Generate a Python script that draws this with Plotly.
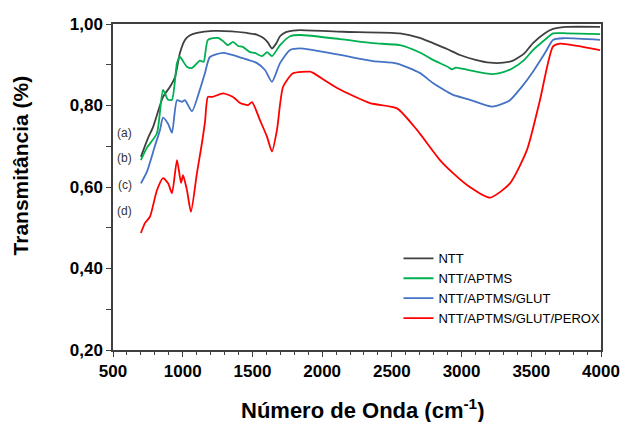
import plotly.graph_objects as go

# ---- data ----
ntt_x = [700, 751, 787, 859, 909, 945, 980, 1016, 1050, 1102, 1217, 1350, 1461, 1530, 1576, 1610, 1640, 1670, 1698, 1740, 1791,
         1841, 2150, 2558, 2700, 2795, 2900, 2989, 3100, 3204, 3300, 3369, 3450, 3512, 3600, 3656, 3700, 3756, 3993]
ntt_y = [0.674, 0.720, 0.747, 0.821, 0.846, 0.870, 0.929, 0.961, 0.972, 0.978, 0.983, 0.982, 0.978, 0.974, 0.966, 0.955, 0.940, 0.952, 0.970, 0.980, 0.984,
         0.985, 0.981, 0.977, 0.966, 0.953, 0.938, 0.924, 0.912, 0.905, 0.905, 0.910, 0.928, 0.953, 0.978, 0.988, 0.991, 0.993, 0.993]

aptms_x = [700, 743, 815, 859, 895, 923, 959, 980, 1030, 1066, 1124, 1150, 1181, 1253, 1290, 1325, 1361, 1397, 1430, 1483, 1518, 1569, 1605, 1640, 1698, 1770,
           1841, 2128, 2365, 2558, 2700, 2795, 2900, 2930, 2960, 3050, 3218, 3300, 3369, 3450, 3512, 3600, 3656, 3756, 3993]
aptms_y = [0.666, 0.696, 0.732, 0.838, 0.814, 0.814, 0.904, 0.919, 0.895, 0.892, 0.910, 0.907, 0.961, 0.966, 0.958, 0.948, 0.956, 0.946, 0.944, 0.931, 0.929, 0.921, 0.931, 0.921, 0.948, 0.970,
           0.973, 0.963, 0.953, 0.948, 0.930, 0.912, 0.895, 0.889, 0.893, 0.887, 0.877, 0.882, 0.892, 0.912, 0.936, 0.962, 0.977, 0.977, 0.975]

glut_x = [700, 743, 800, 837, 859, 895, 923, 959, 995, 1016, 1066, 1124, 1160, 1195, 1289, 1432, 1533, 1590, 1640, 1698, 1770,
          1841, 2128, 2365, 2537, 2700, 2795, 2900, 2939, 3050, 3218, 3300, 3347, 3430, 3512, 3600, 3656, 3728, 3993]
glut_y = [0.609, 0.637, 0.700, 0.740, 0.770, 0.755, 0.733, 0.813, 0.809, 0.813, 0.786, 0.840, 0.880, 0.919, 0.929, 0.916, 0.904, 0.887, 0.858, 0.904, 0.936,
          0.940, 0.924, 0.909, 0.903, 0.880, 0.855, 0.833, 0.826, 0.815, 0.797, 0.805, 0.813, 0.845, 0.883, 0.930, 0.961, 0.965, 0.961]

perox_x = [700, 730, 765, 815, 859, 895, 923, 959, 988, 1002, 1030, 1059, 1102, 1138, 1160, 1181, 1213, 1289, 1361, 1411, 1468, 1497, 1554, 1605, 1640, 1676, 1720, 1791, 1913,
           1935, 2107, 2344, 2537, 2680, 2845, 2939, 3039, 3204, 3347, 3469, 3562, 3656, 3706, 3993]
perox_y = [0.487, 0.512, 0.527, 0.592, 0.622, 0.609, 0.585, 0.666, 0.610, 0.629, 0.593, 0.539, 0.634, 0.708, 0.760, 0.821, 0.821, 0.830, 0.821, 0.806, 0.801, 0.808, 0.764, 0.723, 0.687, 0.740, 0.846, 0.879, 0.883,
           0.880, 0.843, 0.806, 0.793, 0.740, 0.666, 0.634, 0.605, 0.574, 0.609, 0.691, 0.813, 0.945, 0.952, 0.936]

series_names = ["NTT", "NTT/APTMS", "NTT/APTMS/GLUT", "NTT/APTMS/GLUT/PEROX"]
series_colors = ["#404040", "#00b050", "#4472c4", "#ff0000"]
curve_labels = ["(a)", "(b)", "(c)", "(d)"]
label_y = [0.733, 0.671, 0.605, 0.541]

x_ticks = [500, 1000, 1500, 2000, 2500, 3000, 3500, 4000]
y_ticks = [0.20, 0.40, 0.60, 0.80, 1.00]

FONT = "Liberation Sans, Arial"

fig = go.Figure()
for xs, ys, name, col in zip([ntt_x, aptms_x, glut_x, perox_x], [ntt_y, aptms_y, glut_y, perox_y], series_names, series_colors):
    fig.add_trace(go.Scatter(x=xs, y=ys, mode="lines", name=name,
                             line=dict(color=col, width=1.8, shape="spline", smoothing=0.6)))

for lab, ly in zip(curve_labels, label_y):
    fig.add_annotation(x=586, y=ly, text=lab, showarrow=False, xanchor="center", yanchor="middle",
                       font=dict(family=FONT, size=12, color="#333333"))

# axis titles as paper-anchored text
fig.add_annotation(xref="paper", yref="paper", x=0.512, y=-0.182, text="Número de Onda (cm<sup>-1</sup>)",
                   showarrow=False, xanchor="center", yanchor="middle",
                   font=dict(family=FONT, size=22, color="black", weight="bold"))
fig.add_annotation(xref="paper", yref="paper", x=-0.19, y=0.567, text="Transmitância (%)", textangle=-90,
                   showarrow=False, xanchor="center", yanchor="middle",
                   font=dict(family=FONT, size=21, color="black", weight="bold"))

fig.update_layout(
    width=621, height=422,
    margin=dict(l=113, r=20, t=24, b=72, autoexpand=False),
    paper_bgcolor="white", plot_bgcolor="white",
    separators=",.",
    font=dict(family=FONT, color="black"),
    showlegend=True,
    legend=dict(x=0.585, y=0.327, xanchor="left", yanchor="top", bgcolor="rgba(0,0,0,0)",
                font=dict(size=13, color="black"), itemwidth=30, tracegroupgap=0),
)
fig.update_xaxes(range=[500, 4000], tickvals=x_ticks, ticks="outside", ticklen=5, tickwidth=1, tickcolor="#404040",
                 minor=dict(dtick=100, ticks="outside", ticklen=3, tickcolor="#404040"),
                 showline=True, linecolor="#404040", linewidth=1.5, mirror=True, showgrid=False, zeroline=False,
                 automargin=False,
                 tickfont=dict(size=17, family=FONT, color="black", weight="bold"))
fig.update_yaxes(range=[0.20, 1.00], tickvals=y_ticks, tickformat=".2f", ticks="outside", ticklen=5, tickwidth=1, tickcolor="#404040",
                 minor=dict(dtick=0.1, ticks="outside", ticklen=5, tickcolor="#404040"),
                 showline=True, linecolor="#404040", linewidth=1.5, mirror=True, showgrid=False, zeroline=False,
                 automargin=False,
                 tickfont=dict(size=17, family=FONT, color="black", weight="bold"))

# remove the page's default body margin so the figure sits at the window's corner
fig.write_html("out.html", config={"displayModeBar": False},
               post_script="document.body.style.margin='0';document.body.style.overflow='hidden';")
